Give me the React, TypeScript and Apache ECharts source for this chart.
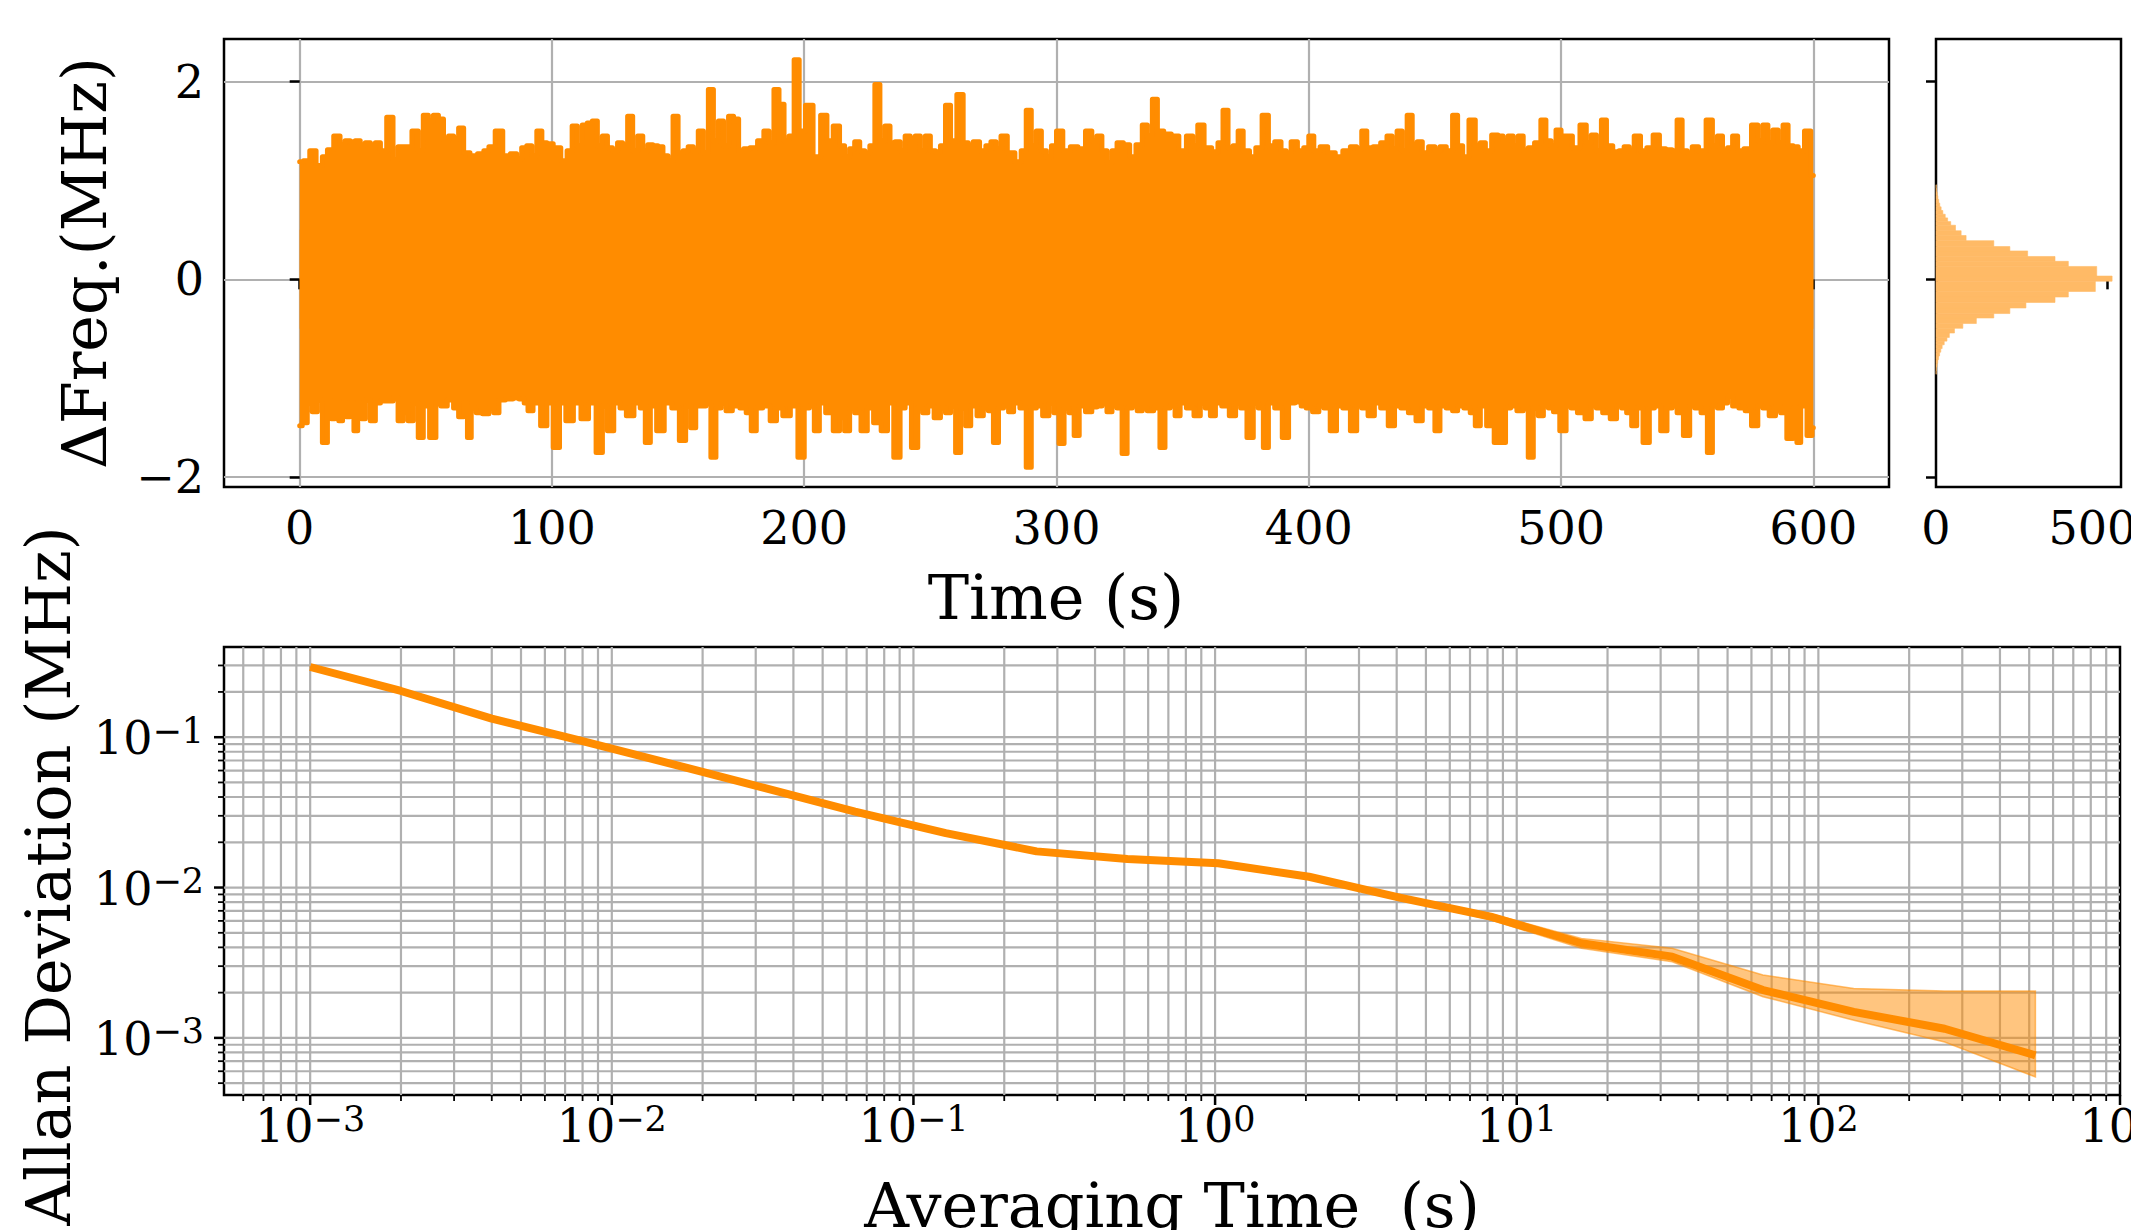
import React, { useEffect, useRef } from "react";
import * as echarts from "echarts";

const FONT = "DejaVu Serif";
const ORANGE = "#ff8c00";
const GRID_COLOR = "#b0b0b0";

// ---------- Time series (frequency deviation) envelope ----------
const upperTimes = [0,3,5,8,10,12,15,17,19,21,23,25,27,29,31,33,36,38,40,43,46,48,50,52,54,56,58,60,62,64,66,69,72,74,76,79,82,85,87,89,91,93,95,97,99,102,105,107,109,111,113,115,117,119,121,123,125,127,129,131,133,135,137,139,141,143,145,147,149,151,153,155,157,159,161,163,165,167,169,171,173,175,177,180,183,185,187,189,191,193,195,197,199,202,205,208,210,213,215,217,219,221,223,225,227,229,231,233,235,237,239,241,243,245,247,249,251,253,255,257,259,262,264,266,268,271,273,275,277,279,282,285,287,289,291,293,295,297,299,301,304,307,310,313,315,317,319,321,323,325,328,330,333,335,337,339,341,344,347,350,353,355,357,360,363,365,367,369,371,373,375,378,380,383,385,388,390,392,394,397,399,401,403,406,409,412,415,418,420,422,424,427,430,432,434,436,438,440,442,444,446,449,451,453,456,458,460,462,465,467,469,471,474,476,478,480,482,484,486,488,491,493,495,497,499,501,503,506,509,511,513,515,517,519,522,524,526,528,530,533,535,538,540,543,545,547,549,551,553,556,559,561,563,565,567,569,571,574,577,579,581,583,585,587,589,591,593,595,598,600];
const upperValues = [1.19,1.20,1.30,1.15,1.24,1.31,1.45,1.36,1.40,1.39,1.40,1.36,1.38,1.36,1.38,1.30,1.64,1.21,1.34,1.34,1.50,1.30,1.66,1.60,1.66,1.62,1.40,1.45,1.42,1.53,1.28,1.25,1.27,1.30,1.34,1.50,1.25,1.27,1.22,1.33,1.35,1.25,1.50,1.38,1.37,1.33,1.20,1.30,1.55,1.35,1.56,1.58,1.60,1.35,1.45,1.33,1.30,1.38,1.36,1.65,1.30,1.45,1.30,1.36,1.35,1.34,1.25,1.20,1.65,1.28,1.30,1.34,1.30,1.50,1.28,1.92,1.40,1.60,1.35,1.65,1.62,1.30,1.32,1.33,1.40,1.50,1.38,1.92,1.77,1.40,1.45,2.22,1.50,1.76,1.24,1.66,1.40,1.55,1.35,1.24,1.32,1.39,1.30,1.28,1.35,1.97,1.40,1.55,1.38,1.39,1.30,1.45,1.42,1.45,1.30,1.45,1.30,1.29,1.35,1.76,1.40,1.87,1.38,1.35,1.39,1.30,1.35,1.39,1.32,1.45,1.28,1.19,1.30,1.71,1.35,1.50,1.30,1.24,1.35,1.50,1.30,1.34,1.32,1.50,1.40,1.45,1.30,1.18,1.30,1.38,1.36,1.24,1.36,1.56,1.45,1.82,1.50,1.47,1.45,1.30,1.45,1.35,1.56,1.33,1.29,1.38,1.71,1.33,1.35,1.50,1.30,1.24,1.33,1.66,1.35,1.39,1.30,1.28,1.39,1.30,1.33,1.45,1.30,1.34,1.28,1.24,1.30,1.34,1.32,1.50,1.33,1.34,1.38,1.45,1.32,1.50,1.30,1.66,1.36,1.39,1.28,1.34,1.30,1.34,1.30,1.66,1.35,1.24,1.61,1.35,1.38,1.30,1.46,1.45,1.40,1.45,1.35,1.45,1.30,1.33,1.38,1.61,1.40,1.35,1.51,1.45,1.45,1.33,1.56,1.38,1.46,1.30,1.61,1.35,1.29,1.30,1.34,1.30,1.45,1.30,1.33,1.46,1.32,1.31,1.30,1.61,1.30,1.28,1.34,1.30,1.61,1.35,1.45,1.30,1.33,1.45,1.30,1.32,1.56,1.40,1.56,1.38,1.51,1.38,1.56,1.35,1.34,1.30,1.50,1.05];

const lowerTimes = [0,2,4,6,8,10,12,13,15,16,18,19,21,22,24,25,27,29,31,33,36,38,40,42,44,46,48,50,53,55,57,60,62,64,66,67,69,71,74,76,78,80,83,86,88,90,91,94,97,99,102,104,107,110,113,116,119,121,123,126,128,131,134,136,138,140,143,146,149,152,154,156,158,160,162,164,166,168,170,173,176,178,180,182,185,188,190,193,196,199,201,203,205,207,210,213,215,217,219,221,224,226,229,232,234,237,239,241,244,246,248,250,253,255,257,259,261,263,265,267,270,272,274,276,278,280,282,284,287,289,291,293,296,298,300,302,304,306,308,310,313,315,317,319,321,323,325,327,329,331,333,335,337,340,342,344,346,348,350,353,356,358,360,362,364,367,370,372,374,377,379,381,383,385,388,391,393,396,398,400,403,405,407,410,412,415,418,420,422,425,427,430,433,435,438,441,444,446,449,451,453,456,458,460,463,465,467,469,472,475,477,479,481,484,486,488,490,492,494,496,498,501,503,505,508,511,513,515,518,521,523,525,527,529,531,534,536,538,541,543,545,547,550,552,554,557,559,561,563,565,567,569,572,574,577,579,581,584,586,588,591,593,594,596,599,600];
const lowerValues = [-1.48,-1.45,-1.25,-1.34,-1.22,-1.65,-1.25,-1.41,-1.22,-1.43,-1.25,-1.39,-1.25,-1.53,-1.25,-1.41,-1.22,-1.43,-1.25,-1.23,-1.23,-1.20,-1.43,-1.35,-1.43,-1.25,-1.60,-1.28,-1.60,-1.25,-1.28,-1.22,-1.30,-1.39,-1.25,-1.60,-1.30,-1.35,-1.36,-1.30,-1.35,-1.22,-1.21,-1.20,-1.21,-1.25,-1.33,-1.25,-1.48,-1.25,-1.70,-1.25,-1.43,-1.25,-1.41,-1.25,-1.75,-1.28,-1.53,-1.25,-1.30,-1.38,-1.25,-1.30,-1.65,-1.28,-1.53,-1.25,-1.30,-1.63,-1.28,-1.50,-1.28,-1.28,-1.25,-1.80,-1.30,-1.25,-1.33,-1.28,-1.30,-1.35,-1.53,-1.30,-1.28,-1.43,-1.30,-1.38,-1.28,-1.80,-1.30,-1.28,-1.53,-1.25,-1.35,-1.53,-1.40,-1.53,-1.30,-1.35,-1.53,-1.30,-1.45,-1.53,-1.25,-1.80,-1.30,-1.25,-1.70,-1.30,-1.35,-1.28,-1.40,-1.30,-1.35,-1.28,-1.75,-1.30,-1.48,-1.28,-1.38,-1.30,-1.33,-1.65,-1.30,-1.28,-1.34,-1.25,-1.30,-1.90,-1.30,-1.28,-1.38,-1.25,-1.35,-1.66,-1.30,-1.35,-1.58,-1.28,-1.34,-1.29,-1.28,-1.25,-1.34,-1.28,-1.30,-1.76,-1.30,-1.28,-1.33,-1.30,-1.33,-1.30,-1.70,-1.30,-1.28,-1.38,-1.25,-1.30,-1.38,-1.25,-1.30,-1.38,-1.25,-1.28,-1.38,-1.25,-1.30,-1.60,-1.25,-1.30,-1.70,-1.25,-1.30,-1.60,-1.25,-1.24,-1.28,-1.30,-1.34,-1.28,-1.30,-1.53,-1.28,-1.30,-1.53,-1.28,-1.30,-1.38,-1.25,-1.30,-1.48,-1.28,-1.30,-1.35,-1.43,-1.28,-1.30,-1.53,-1.28,-1.30,-1.33,-1.28,-1.30,-1.35,-1.48,-1.28,-1.48,-1.65,-1.65,-1.30,-1.28,-1.33,-1.30,-1.80,-1.30,-1.38,-1.28,-1.30,-1.34,-1.53,-1.28,-1.30,-1.35,-1.41,-1.28,-1.30,-1.35,-1.41,-1.28,-1.30,-1.35,-1.48,-1.30,-1.65,-1.30,-1.28,-1.53,-1.30,-1.28,-1.35,-1.58,-1.28,-1.30,-1.35,-1.75,-1.28,-1.30,-1.25,-1.18,-1.28,-1.30,-1.33,-1.48,-1.28,-1.30,-1.38,-1.28,-1.35,-1.61,-1.30,-1.65,-1.28,-1.58,-1.50];

const timeTicks = [0, 100, 200, 300, 400, 500, 600];
const freqTicks = [-2, 0, 2];
const countTicks = [0, 5000];

// ---------- Histogram of frequency deviation ----------
const histEdges = [-0.960,-0.923,-0.886,-0.849,-0.812,-0.775,-0.737,-0.700,-0.662,-0.625,-0.588,-0.543,-0.495,-0.447,-0.391,-0.346,-0.290,-0.234,-0.179,-0.123,-0.019,0.033,0.130,0.182,0.231,0.287,0.331,0.391,0.443,0.491,0.547,0.584,0.621,0.658,0.696,0.733,0.770,0.808,0.845,0.882,0.919,0.956];
const histCounts = [6,15,30,50,75,105,140,180,240,320,390,540,785,1180,1690,2160,2630,3480,3870,4660,5150,4700,3870,3480,2680,2160,1690,880,735,570,430,340,270,200,150,110,80,55,35,20,8];

// ---------- Allan deviation ----------
const tau = [0.001,0.002,0.004,0.008,0.016,0.032,0.064,0.128,0.256,0.512,1.024,2.048,4.096,8.192,16.384,32.768,65.536,131.072,262.144,524.288];
const adev = [0.293,0.203,0.133,0.094,0.066,0.046,0.032,0.023,0.0174,0.0155,0.0145,0.0118,0.00857,0.0064,0.00426,0.00347,0.00208,0.00149,0.00115,0.000766];
const adevHigh = [0.294,0.204,0.134,0.0945,0.0664,0.0463,0.0322,0.0232,0.0176,0.0157,0.0147,0.0120,0.0088,0.0067,0.00459,0.00394,0.00262,0.00213,0.00205,0.00205];
const adevLow = [0.292,0.202,0.132,0.0935,0.0656,0.0457,0.0318,0.0228,0.0172,0.0153,0.0143,0.0116,0.0084,0.0061,0.00394,0.00321,0.00188,0.00131,0.00094,0.00055];

const tauDecades = [1e-4, 1e-3, 1e-2, 1e-1, 1, 10, 100, 1000];
const adevDecades = [1e-4, 1e-3, 1e-2, 1e-1];
const minorMantissas = [2, 3, 4, 5, 6, 7, 8, 9];

// axis ranges
const T_MIN = -30, T_MAX = 630;
const F_MIN = -2.1, F_MAX = 2.43;
const C_MAX = 5410;
const TAU_MIN = 5.18e-4, TAU_MAX = 1000;
const A_MIN = 4.17e-4, A_MAX = 0.398;

const TICK_FS = 46;
const TITLE_FS = 62;

function supLabel(v: number) {
  const e = Math.log10(v);
  const r = Math.round(e);
  if (Math.abs(e - r) > 1e-6) return "";
  const s = r < 0 ? "\u2212" + -r : String(r);
  return `{b|10}{s|${s}}`;
}

const richSup = {
  b: { fontSize: TICK_FS, fontFamily: FONT, color: "#000", lineHeight: 48, verticalAlign: "bottom" },
  s: { fontSize: 35, fontFamily: FONT, color: "#000", lineHeight: 34, verticalAlign: "top" },
};

function buildTickRows(decades: number[], lo: number, hi: number, fixed: number, isX: boolean) {
  const rows: number[][] = [];
  decades.forEach((d) => {
    if (d >= lo * 0.9999 && d <= hi * 1.0001) rows.push(isX ? [d, fixed, 1] : [fixed, d, 1]);
    minorMantissas.forEach((m) => {
      const v = m * d;
      if (v > lo && v < hi) rows.push(isX ? [v, fixed, 0] : [fixed, v, 0]);
    });
  });
  return rows;
}

export default function App() {
  const ref = useRef<HTMLDivElement>(null);

  useEffect(() => {
    if (!ref.current) return;
    const chart = echarts.init(ref.current, undefined, { renderer: "svg" });

    const upperData = upperTimes.map((t, i) => [t, upperValues[i]]);
    const lowerData = lowerTimes.map((t, i) => [t, lowerValues[i]]);
    const histData = histCounts.map((c, i) => [histEdges[i], histEdges[i + 1], c]);
    const adevData = tau.map((t, i) => [t, adev[i]]);
    const xTickRows = buildTickRows(tauDecades, TAU_MIN, TAU_MAX, A_MIN, true);
    const yTickRows = buildTickRows(adevDecades, A_MIN, A_MAX, TAU_MIN, false);

    const gridLine = { show: true, lineStyle: { color: GRID_COLOR, width: 2.2 } };
    const tickStyle = { show: true, length: 10, lineStyle: { color: "#000", width: 2.5 } };
    const labelBase = { color: "#000", fontSize: TICK_FS, fontFamily: FONT };
    const gridBase = {
      show: true, borderColor: "#000", borderWidth: 2.5, backgroundColor: "transparent",
      containLabel: false, outerBoundsMode: "none",
    };

    const option: any = {
      animation: false,
      backgroundColor: "#fff",
      textStyle: { fontFamily: FONT },
      grid: [
        { ...gridBase, left: 224, top: 39, width: 1665, height: 448 },
        { ...gridBase, left: 1936, top: 39, width: 185, height: 448 },
        { ...gridBase, left: 224, top: 647, width: 1896, height: 448 },
      ],
      xAxis: [
        {
          type: "value", gridIndex: 0, min: T_MIN, max: T_MAX,
          axisLine: { show: false },
          axisTick: { ...tickStyle, customValues: timeTicks },
          axisLabel: { ...labelBase, margin: 18, customValues: timeTicks, formatter: (v: number) => String(Math.round(v)) },
          splitLine: gridLine,
        },
        {
          type: "value", gridIndex: 1, min: 0, max: C_MAX, splitNumber: 1,
          axisLine: { show: false },
          axisTick: { ...tickStyle, customValues: countTicks },
          axisLabel: { ...labelBase, margin: 18, customValues: countTicks, formatter: (v: number) => String(Math.round(v)) },
          splitLine: { show: false },
        },
        {
          type: "log", logBase: 10, gridIndex: 2, min: TAU_MIN, max: TAU_MAX,
          axisLine: { show: false },
          axisTick: { show: false },
          minorTick: { show: false },
          splitLine: { show: false },
          axisLabel: { ...labelBase, margin: 6, formatter: supLabel, rich: richSup, showMinLabel: true, showMaxLabel: true },
        },
      ],
      yAxis: [
        {
          type: "value", gridIndex: 0, min: F_MIN, max: F_MAX, splitNumber: 2,
          axisLine: { show: false },
          axisTick: { ...tickStyle, customValues: freqTicks },
          axisLabel: { ...labelBase, margin: 20, customValues: freqTicks, formatter: (v: number) => (v < 0 ? "\u2212" + -v : String(v)) },
          splitLine: gridLine,
        },
        {
          type: "value", gridIndex: 1, min: F_MIN, max: F_MAX, splitNumber: 2,
          axisLine: { show: false },
          axisTick: { ...tickStyle, customValues: freqTicks },
          axisLabel: { show: false },
          splitLine: { show: false },
        },
        {
          type: "log", logBase: 10, gridIndex: 2, min: A_MIN, max: A_MAX,
          axisLine: { show: false },
          axisTick: { show: false },
          minorTick: { show: false },
          splitLine: { show: false },
          axisLabel: { ...labelBase, margin: 20, formatter: supLabel, rich: richSup },
        },
      ],
      series: [
        {
          type: "line", xAxisIndex: 0, yAxisIndex: 0, data: upperData, step: "middle",
          showSymbol: false, symbol: "none", z: 3,
          lineStyle: { color: ORANGE, width: 5, join: "round", cap: "round" },
          areaStyle: { color: ORANGE, opacity: 1, origin: -0.5 },
        },
        {
          type: "line", xAxisIndex: 0, yAxisIndex: 0, data: lowerData, step: "middle",
          showSymbol: false, symbol: "none", z: 3,
          lineStyle: { color: ORANGE, width: 5, join: "round", cap: "round" },
          areaStyle: { color: ORANGE, opacity: 1, origin: 0.5 },
        },
        {
          type: "custom", xAxisIndex: 1, yAxisIndex: 1, data: histData, z: 3,
          encode: { x: 2, y: [0, 1] },
          renderItem: (_p: any, api: any) => {
            const lo = api.value(0), hi = api.value(1), c = api.value(2);
            const a = api.coord([0, hi]);
            const b = api.coord([c, lo]);
            return { type: "rect", shape: { x: a[0], y: a[1], width: b[0] - a[0], height: b[1] - a[1] }, style: { fill: "#ffba66", stroke: "#ffba66", lineWidth: 0.6 } };
          },
        },
        {
          type: "custom", xAxisIndex: 2, yAxisIndex: 2, data: xTickRows, z: 1, silent: true,
          encode: { x: 0, y: 1 },
          renderItem: (_p: any, api: any) => {
            const v = api.value(0), major = api.value(2);
            const b = api.coord([v, A_MIN]);
            const t = api.coord([v, A_MAX]);
            const children: any[] = [];
            if (v > TAU_MIN * 1.001 && v < TAU_MAX * 0.999) {
              children.push({ type: "line", shape: { x1: b[0], y1: b[1], x2: t[0], y2: t[1] }, style: { stroke: GRID_COLOR, lineWidth: 2.2 } });
            }
            children.push({ type: "line", shape: { x1: b[0], y1: b[1], x2: b[0], y2: b[1] + (major ? 10 : 6) }, style: { stroke: "#000", lineWidth: major ? 2.5 : 1.8 } });
            return { type: "group", children };
          },
        },
        {
          type: "custom", xAxisIndex: 2, yAxisIndex: 2, data: yTickRows, z: 1, silent: true,
          encode: { x: 0, y: 1 },
          renderItem: (_p: any, api: any) => {
            const v = api.value(1), major = api.value(2);
            const l = api.coord([TAU_MIN, v]);
            const r = api.coord([TAU_MAX, v]);
            const children: any[] = [];
            if (v > A_MIN * 1.001 && v < A_MAX * 0.999) {
              children.push({ type: "line", shape: { x1: l[0], y1: l[1], x2: r[0], y2: r[1] }, style: { stroke: GRID_COLOR, lineWidth: 2.2 } });
            }
            children.push({ type: "line", shape: { x1: l[0] - (major ? 10 : 6), y1: l[1], x2: l[0], y2: l[1] }, style: { stroke: "#000", lineWidth: major ? 2.5 : 1.8 } });
            return { type: "group", children };
          },
        },
        {
          type: "custom", xAxisIndex: 2, yAxisIndex: 2, data: [[tau[0], adev[0]]], z: 2, silent: true,
          encode: { x: 0, y: 1 },
          renderItem: (_p: any, api: any) => {
            const pts: number[][] = [];
            for (let i = 0; i < tau.length; i++) pts.push(api.coord([tau[i], adevHigh[i]]));
            for (let i = tau.length - 1; i >= 0; i--) pts.push(api.coord([tau[i], adevLow[i]]));
            return { type: "polygon", shape: { points: pts }, style: { fill: "rgba(255,140,0,0.5)", stroke: "rgba(255,140,0,0.55)", lineWidth: 1.5 } };
          },
        },
        {
          type: "line", xAxisIndex: 2, yAxisIndex: 2, data: adevData, z: 4,
          showSymbol: false, symbol: "none",
          lineStyle: { color: ORANGE, width: 8, join: "round" },
        },
      ],
      graphic: [
        { type: "text", x: 1056, y: 597, style: { text: "Time (s)", fontSize: TITLE_FS, fontFamily: FONT, fill: "#000", align: "center", verticalAlign: "middle", textAlign: "center", textVerticalAlign: "middle" } },
        { type: "text", x: 84, y: 263, rotation: Math.PI / 2, style: { text: "\u0394Freq.(MHz)", fontSize: TITLE_FS, fontFamily: FONT, fill: "#000", align: "center", verticalAlign: "middle", textAlign: "center", textVerticalAlign: "middle" } },
        { type: "text", x: 1172, y: 1205, style: { text: "Averaging Time  (s)", fontSize: TITLE_FS, fontFamily: FONT, fill: "#000", align: "center", verticalAlign: "middle", textAlign: "center", textVerticalAlign: "middle" } },
        { type: "text", x: 48, y: 876, rotation: Math.PI / 2, style: { text: "Allan Deviation (MHz)", fontSize: TITLE_FS, fontFamily: FONT, fill: "#000", align: "center", verticalAlign: "middle", textAlign: "center", textVerticalAlign: "middle" } },
      ],
    };

    chart.setOption(option);
    return () => chart.dispose();
  }, []);

  return (
    <div
      ref={ref}
      style={{ position: "fixed", left: 0, top: 0, width: 2131, height: 1230, background: "#fff" }}
    />
  );
}
